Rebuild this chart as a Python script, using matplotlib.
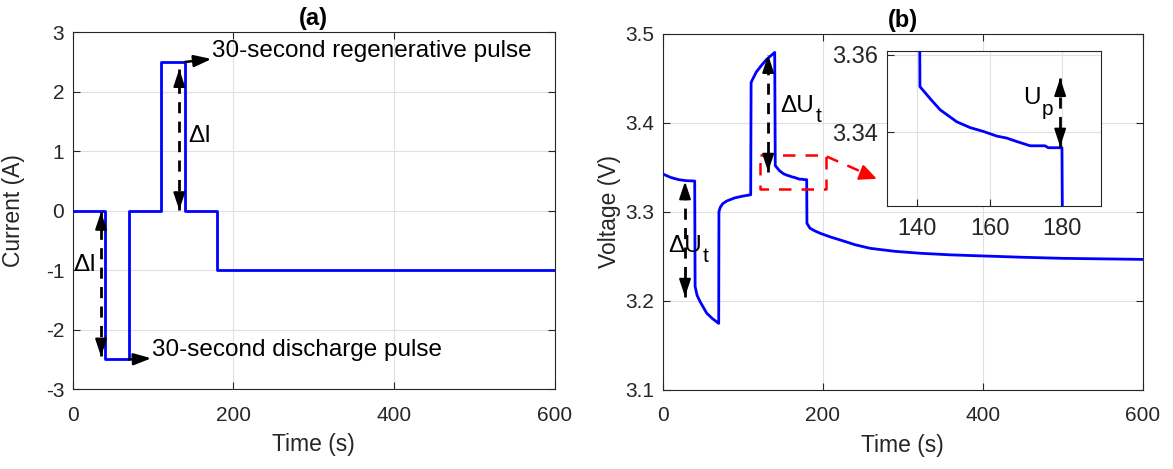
import matplotlib
matplotlib.use("Agg")
import matplotlib.pyplot as plt

plt.rcParams['font.family'] = ['Liberation Sans', 'DejaVu Sans']
plt.rcParams['axes.unicode_minus'] = False

# ---------------- data ----------------
t_current = [0, 40, 40, 70, 70, 110, 110, 140, 140, 180, 180, 600]
i_current = [0, 0, -2.5, -2.5, 0, 0, 2.5, 2.5, 0, 0, -1, -1]

t_volt = [0, 10, 20, 30, 40,
          40.5, 43, 47, 55, 62, 70,
          70.3, 72, 75, 80, 90, 100, 110,
          110.5, 112, 117, 124, 130, 140,
          140.7, 143.8, 146.3, 150.9, 154.6, 158.3, 162.0, 164.7, 167.5, 171.2, 175.3, 176.2, 180,
          180.3, 184, 190, 197, 210, 222, 240, 259, 290, 322, 360, 400, 450, 500, 550, 600]
v_volt = [3.3424, 3.3385, 3.3360, 3.3348, 3.3345,
          3.2160, 3.2060, 3.1985, 3.1860, 3.1800, 3.1745,
          3.3000, 3.3050, 3.3090, 3.3120, 3.3155, 3.3175, 3.3190,
          3.4450, 3.4480, 3.4570, 3.4650, 3.4712, 3.4790,
          3.3518, 3.3484, 3.3458, 3.3427, 3.3412, 3.3402, 3.3390, 3.3385, 3.3376, 3.3365, 3.3365, 3.3360, 3.3360,
          3.2870, 3.2815, 3.2785, 3.2757, 3.2715, 3.2682, 3.2630, 3.2589, 3.2555, 3.2533, 3.2515, 3.2503, 3.2488, 3.2476, 3.2470, 3.2464]

xticks = [0, 200, 400, 600]
yticks_a = [-3, -2, -1, 0, 1, 2, 3]
yticks_b = [3.1, 3.2, 3.3, 3.4, 3.5]
inset_xticks = [140, 160, 180]
inset_yticks = [3.34, 3.36]

# ---------------- style ----------------
AXC = (0.15, 0.15, 0.15)
GRIDC = (0.88, 0.88, 0.88)
BLUE = (0, 0, 1)
RED = (1, 0, 0)
TICK_FS = 15
LABEL_FS = 16.5
ANN_FS = 17.5
SUB_FS = 15


def style_axes(ax, fs=TICK_FS, xpad=12):
    for s in ax.spines.values():
        s.set_color(AXC)
        s.set_linewidth(0.8)
    ax.tick_params(direction='in', top=True, right=True, length=5, width=0.8,
                   colors=AXC, labelsize=fs, labelcolor=AXC)
    ax.tick_params(axis='x', pad=xpad)
    ax.tick_params(axis='y', pad=6)
    ax.grid(True, color=GRIDC, linewidth=0.8)
    ax.set_axisbelow(True)


def head(ax, xy, d, color='k'):
    ax.annotate('', xy=xy, xytext=(-d[0] * 12, -d[1] * 12), textcoords='offset points',
                arrowprops=dict(arrowstyle='-|>,head_length=0.75,head_width=0.25',
                                color=color, lw=1.5, mutation_scale=14,
                                shrinkA=0, shrinkB=0), zorder=6)


def dashed_double(ax, x, y0, y1, color='k'):
    ax.plot([x, x], [y0, y1], color=color, lw=2, dashes=(4, 3), zorder=5)
    head(ax, (x, y1), (0, 1) if y1 > y0 else (0, -1), color)
    head(ax, (x, y0), (0, -1) if y1 > y0 else (0, 1), color)


def solid_arrow(ax, p0, p1, color='k'):
    ax.annotate('', xy=p1, xytext=p0,
                arrowprops=dict(arrowstyle='-|>,head_length=0.75,head_width=0.25',
                                color=color, lw=1.8, mutation_scale=14,
                                shrinkA=0, shrinkB=0), zorder=6)


def sub_text(ax, x, y, main, sub):
    t = ax.text(x, y, main, fontsize=ANN_FS, va='baseline', ha='left', zorder=4)
    ax.annotate(sub, xy=(1, 0), xycoords=t, xytext=(0.5, -4), textcoords='offset points',
                fontsize=SUB_FS, va='baseline', ha='left', zorder=4)
    return t


fig = plt.figure(figsize=(11.73, 4.69), dpi=100)
W, H = 1173, 469
ax1 = fig.add_axes([72.7 / W, 1 - 389.2 / H, 481.8 / W, 357 / H])
ax2 = fig.add_axes([662.7 / W, 1 - 389.7 / H, 480 / W, 356 / H])
axin = fig.add_axes([886.7 / W, 1 - 205.7 / H, 214.3 / W, 155 / H])

# ---------------- (a) ----------------
ax1.plot(t_current, i_current, color=BLUE, lw=2, zorder=3)
ax1.set_xlim(0, 600)
ax1.set_ylim(-3, 3)
ax1.set_xticks(xticks)
ax1.set_yticks(yticks_a)
style_axes(ax1)
ax1.set_xlabel('Time (s)', fontsize=LABEL_FS, color=AXC, labelpad=6)
ax1.set_ylabel('Current (A)', fontsize=LABEL_FS, color=AXC, labelpad=15)
ax1.set_title('(a)', fontsize=17, fontweight='bold', pad=5)

dashed_double(ax1, 132.7, 0.01, 2.38)
ax1.text(144, 1.16, 'ΔI', fontsize=ANN_FS, va='baseline', ha='left')
solid_arrow(ax1, (140, 2.5), (173, 2.55))
ax1.text(173.5, 2.58, '30-second regenerative pulse', fontsize=ANN_FS, va='baseline', ha='left')

dashed_double(ax1, 35.3, -2.45, -0.02)
ax1.text(0.5, -1.01, 'ΔI', fontsize=ANN_FS, va='baseline', ha='left')
solid_arrow(ax1, (70, -2.5), (98, -2.48))
ax1.text(98.4, -2.45, '30-second discharge pulse', fontsize=ANN_FS, va='baseline', ha='left')

# ---------------- (b) ----------------
ax2.plot(t_volt, v_volt, color=BLUE, lw=2, zorder=3)
ax2.set_xlim(0, 600)
ax2.set_ylim(3.1, 3.5)
ax2.set_xticks(xticks)
ax2.set_yticks(yticks_b)
ax2.set_yticklabels([f'{v:.1f}' for v in yticks_b])
style_axes(ax2)
ax2.set_xlabel('Time (s)', fontsize=LABEL_FS, color=AXC, labelpad=6)
ax2.set_ylabel('Voltage (V)', fontsize=LABEL_FS, color=AXC, labelpad=3)
ax2.set_title('(b)', fontsize=17, fontweight='bold', pad=5)

sub_text(ax2, 7, 3.2551, 'ΔU', 't')
dashed_double(ax2, 27.9, 3.2045, 3.334)
dashed_double(ax2, 131.8, 3.345, 3.476)
sub_text(ax2, 147.5, 3.4124, 'ΔU', 't')

ax2.plot([121.6, 204, 204, 121.6, 121.6], [3.3637, 3.3637, 3.3252, 3.3252, 3.3637],
         color=RED, lw=1.8, dashes=(5, 4), zorder=4)
ax2.plot([205, 262], [3.362, 3.3395], color=RED, lw=1.8, dashes=(5, 4), zorder=4)
ax2.annotate('', xy=(267.5, 3.337), xytext=(-10, 4), textcoords='offset points',
             arrowprops=dict(arrowstyle='-|>,head_length=0.75,head_width=0.35',
                             color=RED, lw=1.5, mutation_scale=14, shrinkA=0, shrinkB=0))

# ---------------- inset ----------------
axin.plot(t_volt, v_volt, color=BLUE, lw=2, zorder=3)
axin.set_xlim(131.5, 190.8)
axin.set_ylim(3.321, 3.3611)
axin.set_xticks(inset_xticks)
axin.set_yticks(inset_yticks)
axin.set_yticklabels([f'{v:.2f}' for v in inset_yticks])
style_axes(axin, fs=17, xpad=9)
axin.tick_params(top=False, right=False)
sub_text(axin, 169.3, 3.3473, 'U', 'p')
dashed_double(axin, 179.5, 3.3363, 3.354)

fig.savefig('out.png', dpi=100)
